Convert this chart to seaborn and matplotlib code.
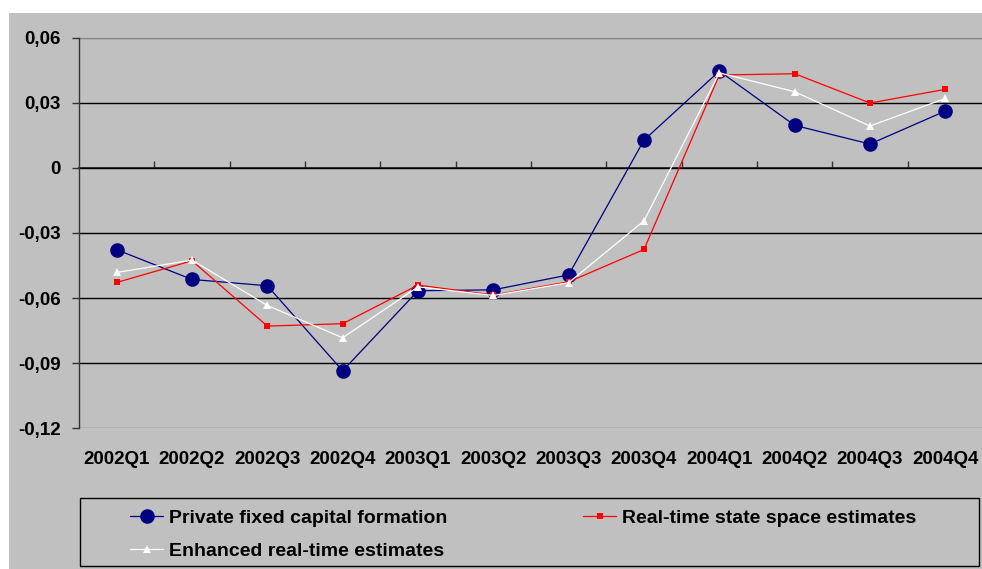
import matplotlib
matplotlib.use("Agg")
import matplotlib.pyplot as plt
from matplotlib.patches import Rectangle
from matplotlib.ticker import FuncFormatter, FixedLocator
import numpy as np
import pandas as pd
import seaborn as sns

quarters = ["2002Q1", "2002Q2", "2002Q3", "2002Q4",
            "2003Q1", "2003Q2", "2003Q3", "2003Q4",
            "2004Q1", "2004Q2", "2004Q3", "2004Q4"]

private_fixed_capital = [-0.0377, -0.0514, -0.0543, -0.0935,
                         -0.0566, -0.0562, -0.0493, 0.0128,
                         0.0446, 0.0196, 0.0110, 0.0262]
realtime_state_space = [-0.0528, -0.0428, -0.0729, -0.0718,
                        -0.0540, -0.0586, -0.0525, -0.0376,
                        0.0428, 0.0434, 0.0299, 0.0362]
enhanced_realtime = [-0.0482, -0.0425, -0.0634, -0.0783,
                     -0.0548, -0.0588, -0.0529, -0.0244,
                     0.0438, 0.0351, 0.0193, 0.0320]

series_names = ["Private fixed capital formation",
                "Real-time state space estimates",
                "Enhanced real-time estimates"]

y_ticks = [-0.12, -0.09, -0.06, -0.03, 0.0, 0.03, 0.06]

df = pd.DataFrame({
    "quarter": quarters * 3,
    "value": private_fixed_capital + realtime_state_space + enhanced_realtime,
    "series": np.repeat(series_names, len(quarters)),
})

sns.set_theme(style="white")
plt.rcParams["font.family"] = ["Liberation Sans", "DejaVu Sans"]
plt.rcParams["font.weight"] = "bold"
plt.rcParams["text.color"] = "black"
plt.rcParams["xtick.labelcolor"] = "black"
plt.rcParams["ytick.labelcolor"] = "black"

GRAY = "#C0C0C0"
W, H = 982, 569
fig = plt.figure(figsize=(W / 100, H / 100), dpi=100, facecolor="white")

# chart area background
fig.patches.append(Rectangle((9 / W, 0), 1 - 9 / W, 1 - 13 / H,
                             transform=fig.transFigure, facecolor=GRAY,
                             edgecolor="none", zorder=-10))

left, right = 79, 983
top, bottom = 37.7, 428.3
ax = fig.add_axes([left / W, 1 - bottom / H, (right - left) / W, (bottom - top) / H])
ax.set_facecolor(GRAY)

palette = {series_names[0]: "#000080",
           series_names[1]: "#FF0000",
           series_names[2]: "#FFFFFF"}
markers = {series_names[0]: "o",
           series_names[1]: "s",
           series_names[2]: "^"}

sns.lineplot(data=df, x="quarter", y="value", hue="series", style="series",
             palette=palette, markers=markers, dashes=False, ax=ax,
             linewidth=0.9, legend=False, sort=False, zorder=3)

sizes = {series_names[0]: 10.5, series_names[1]: 4.8, series_names[2]: 5.5}
for line, name in zip(ax.get_lines(), series_names):
    line.set_markersize(sizes[name])
    line.set_markeredgewidth(0)

ax.set_xlim(-0.5, len(quarters) - 0.5)
ax.set_ylim(-0.12, 0.06)
ax.set_xlabel("")
ax.set_ylabel("")

ax.yaxis.set_major_locator(FixedLocator(y_ticks))
ax.yaxis.set_major_formatter(FuncFormatter(
    lambda v, _: "0" if abs(v) < 1e-9 else f"{v:.2f}".replace(".", ",")))
ax.grid(axis="y", color="#000000", linewidth=1.0)
ax.grid(axis="x", visible=False)
ax.set_axisbelow(True)
gl = ax.yaxis.get_gridlines()
gl[0].set_color("#808080")
gl[-1].set_color("#808080")

for s in ["top", "right", "bottom"]:
    ax.spines[s].set_visible(False)
ax.spines["left"].set_color("#333333")
ax.spines["left"].set_linewidth(1.0)

ax.tick_params(axis="y", which="major", direction="out", length=5, width=1,
               color="#333333", pad=8, labelsize=13.5, left=True,
               labelcolor="black")
ax.tick_params(axis="x", which="major", length=0, pad=16, labelsize=13.5,
               labelcolor="black")
for lab in ax.get_xticklabels() + ax.get_yticklabels():
    lab.set_fontweight("bold")

# category axis crossing at zero
sec = ax.secondary_xaxis(0.12 / 0.18)
sec.set_xticks(np.arange(len(quarters) - 1) + 0.5)
sec.set_xticklabels([])
sec.tick_params(axis="x", direction="out", length=5, width=1, color="#333333")
sec.spines["bottom"].set_color("#333333")
sec.spines["bottom"].set_linewidth(1.2)

# legend box
fig.patches.append(Rectangle((80 / W, 1 - 566 / H), (979 - 80) / W, (566 - 498) / H,
                             transform=fig.transFigure, facecolor=GRAY,
                             edgecolor="#000000", linewidth=1.0, zorder=1))
handles = [
    plt.Line2D([], [], color="#000080", marker="o", markersize=10.5, lw=0.9, mew=0),
    plt.Line2D([], [], color="#FFFFFF", marker="^", markersize=5.5, lw=0.9, mew=0),
    plt.Line2D([], [], color="#FF0000", marker="s", markersize=4.8, lw=0.9, mew=0),
]
labels = [series_names[0], series_names[2], series_names[1]]
leg = fig.legend(handles, labels, ncol=2, loc="upper left",
                 bbox_to_anchor=(130 / W, 1 - 509 / H), frameon=False,
                 prop={"weight": "bold", "size": 14},
                 handlelength=1.7, handletextpad=0.3, columnspacing=7.0,
                 labelspacing=0.82, borderpad=0, borderaxespad=0,
                 labelcolor="black")

fig.savefig("out.png", dpi=100, facecolor="white")
